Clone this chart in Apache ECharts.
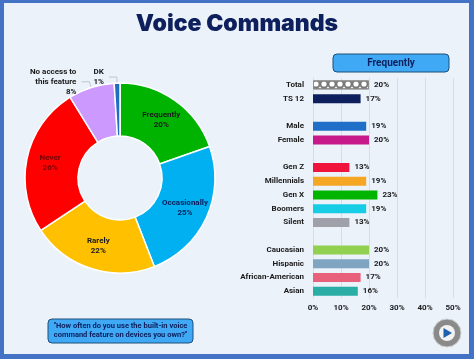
<!DOCTYPE html>
<html>
<head>
<meta charset="utf-8">
<script src="https://cdn.jsdelivr.net/npm/echarts@6/dist/echarts.min.js"></script>
<style>
html,body{margin:0;padding:0;background:#EBF2FA;}
#chart{width:474px;height:359px;}
</style>
</head>
<body>
<div id="chart"></div>
<script>
const pieNames = ['Frequently', 'Occasionally', 'Rarely', 'Never', 'No access to\nthis feature', 'DK'];
const pieValues = [20, 25, 22, 26, 8, 1];
const pieColors = ['#00B300', '#00B0F0', '#FFC000', '#FF0000', '#CC99FF', '#1F6FC0'];
const pieLabelColors = ['#1a1a1a', '#0D1F5C', '#1a1a1a', '#7A0000', '#1a1a1a', '#1a1a1a'];

const barCategories = ['Total', 'TS 12', '', 'Male', 'Female', ' ', 'Gen Z', 'Millennials', 'Gen X', 'Boomers', 'Silent', '  ', 'Caucasian', 'Hispanic', 'African-American', 'Asian'];
const barValues = [20, 17, null, 19, 20, null, 13, 19, 23, 19, 13, null, 20, 20, 17, 16];
const barColors = ['#FFFFFF', '#0D1F5C', null, '#1F6FC8', '#C8198A', null, '#F0143C', '#F5A623', '#00B400', '#17CDE6', '#A0A0A8', null, '#92D050', '#7FA5C2', '#E8607A', '#2AADA5'];
const xTicks = [0, 10, 20, 30, 40, 50];

const FONT = 'Roboto';

const chart = echarts.init(document.getElementById('chart'), null, {renderer: 'canvas'});

const pieData = pieValues.map((v, i) => {
  const outside = i >= 4;
  return {
    name: pieNames[i],
    value: v,
    itemStyle: {color: pieColors[i]},
    label: {
      position: outside ? 'outside' : 'inside',
      color: pieLabelColors[i]
    },
    labelLine: {show: outside, length: 6, length2: 8, lineStyle: {color: '#BFC5CC', width: 1}}
  };
});

const barData = barValues.map((v, i) => {
  if (v === null) return null;
  const item = {value: v, itemStyle: {color: barColors[i]}};
  if (i === 0) {
    item.itemStyle = {
      color: '#FFFFFF',
      borderColor: '#8C8C8C',
      borderWidth: 1,
      decal: {
        symbol: 'emptyCircle',
        symbolSize: 0.9,
        color: '#7A7A7A',
        dashArrayX: [[8, 0]],
        dashArrayY: [8, 0],
        rotation: 0
      }
    };
  }
  return item;
});

chart.setOption({
  animation: false,
  title: {
    text: 'Voice Commands',
    left: 'center',
    top: 8,
    textStyle: {fontFamily: 'Inter', fontWeight: 900, fontSize: 23, color: '#0D1F5C'}
  },
  graphic: [
    {type: 'rect', z: -10, silent: true, shape: {x: 0, y: 0, width: 474, height: 359}, style: {fill: '#4472C4'}},
    {type: 'rect', z: -9, silent: true, shape: {x: 4, y: 3, width: 465, height: 351}, style: {fill: '#EBF2FA'}},
    {type: 'rect', z: 10, shape: {x: 333, y: 54, width: 116, height: 18, r: 4}, style: {fill: '#3FA9F5', stroke: '#1E4E79', lineWidth: 1}},
    {type: 'text', z: 11, style: {x: 391, y: 63.5, text: 'Frequently', align: 'center', verticalAlign: 'middle', fill: '#0D1F5C', font: 'bold 10px ' + FONT}},
    {type: 'rect', z: 10, shape: {x: 48, y: 319, width: 145, height: 24, r: 4}, style: {fill: '#3FA9F5', stroke: '#1E4E79', lineWidth: 1}},
    {type: 'text', z: 11, style: {x: 120.5, y: 331, text: '"How often do you use the built-in voice\ncommand feature on devices you own?"', align: 'center', verticalAlign: 'middle', fill: '#0D1F5C', font: 'bold 7.5px ' + FONT, lineHeight: 9}},
    {type: 'circle', z: 10, shape: {cx: 447, cy: 333, r: 14}, style: {fill: '#8A8A8A', stroke: '#D0D0D0', lineWidth: 1}},
    {type: 'circle', z: 11, shape: {cx: 447, cy: 333, r: 8}, style: {fill: '#F2F2F2'}},
    {type: 'polygon', z: 12, shape: {points: [[443.5, 328], [443.5, 338], [452, 333]]}, style: {fill: '#1F5FAF'}}
  ],
  grid: {left: 313, right: 21, top: 78, bottom: 61},
  xAxis: {
    type: 'value',
    min: 0, max: 50, interval: 10,
    axisLine: {show: false},
    axisTick: {show: false},
    splitLine: {show: true, lineStyle: {color: '#D6DDE7', width: 1}},
    axisLabel: {formatter: '{value}%', margin: 6, color: '#1a1a1a', fontFamily: FONT, fontWeight: 'bold', fontSize: 8}
  },
  yAxis: {
    type: 'category',
    inverse: true,
    data: barCategories,
    axisLine: {show: false},
    axisTick: {show: false},
    axisLabel: {margin: 9, color: '#1a1a1a', fontFamily: FONT, fontWeight: 'bold', fontSize: 8, interval: 0}
  },
  series: [
    {
      type: 'pie',
      center: [120, 178],
      radius: [42, 95],
      startAngle: 90,
      clockwise: true,
      avoidLabelOverlap: false,
      itemStyle: {borderColor: '#FFFFFF', borderWidth: 1.5},
      label: {
        show: true,
        fontFamily: FONT,
        fontWeight: 'bold',
        fontSize: 8,
        lineHeight: 10,
        align: 'center',
        formatter: p => p.name + '\n' + p.value + '%'
      },
      data: pieData
    },
    {
      type: 'bar',
      data: barData,
      barWidth: 9,
      label: {show: true, position: 'right', distance: 5, formatter: '{c}%', color: '#1a1a1a', fontFamily: FONT, fontWeight: 'bold', fontSize: 8}
    }
  ]
});
</script>
</body>
</html>
